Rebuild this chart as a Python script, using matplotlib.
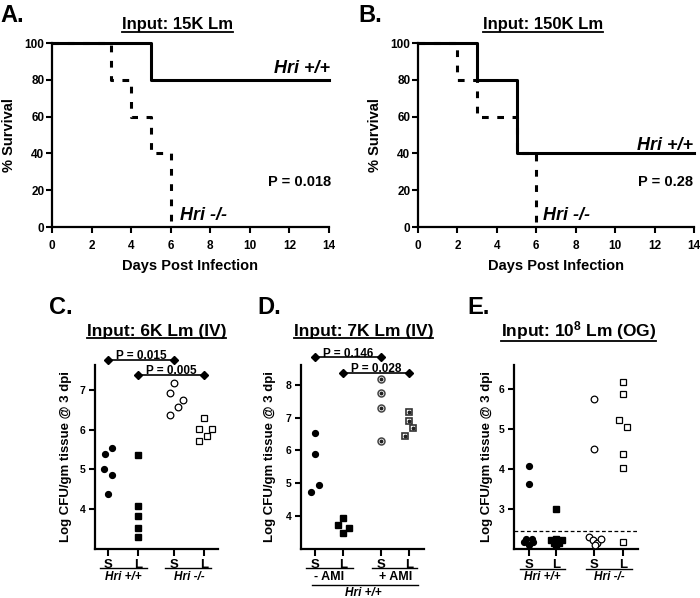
import matplotlib
matplotlib.use('Agg')
import matplotlib.pyplot as plt
from matplotlib.lines import Line2D

plt.rcParams['font.family'] = ['Liberation Sans', 'DejaVu Sans']
plt.rcParams['font.weight'] = 'bold'
plt.rcParams['axes.labelweight'] = 'bold'
plt.rcParams['mathtext.fontset'] = 'custom'
plt.rcParams['mathtext.rm'] = 'Liberation Sans:bold'
plt.rcParams['mathtext.bf'] = 'Liberation Sans:bold'
plt.rcParams['mathtext.it'] = 'Liberation Sans:bold:italic'
plt.rcParams['mathtext.default'] = 'bf'

# ---------------- data ----------------
day_ticks = [0, 2, 4, 6, 8, 10, 12, 14]
surv_ticks = [0, 20, 40, 60, 80, 100]

a_wt_days = [0, 5, 14]
a_wt_surv = [100, 80, 80]
a_ko_days = [0, 3, 4, 5, 6]
a_ko_surv = [100, 80, 60, 40, 0]
b_wt_days = [0, 3, 5, 14]
b_wt_surv = [100, 80, 40, 40]
b_ko_days = [0, 2, 3, 5, 6]
b_ko_surv = [100, 80, 60, 40, 0]
a_pvalue = 'P = 0.018'
b_pvalue = 'P = 0.28'

tick_names = ['S', 'L', 'S', 'L']

# Panel C (log CFU)
c_wt_spleen = [5.39, 5.53, 5.00, 4.87, 4.37]
c_wt_liver = [5.35, 4.07, 3.82, 3.53, 3.31]
c_ko_spleen = [7.17, 6.92, 6.75, 6.56, 6.36]
c_ko_liver = [6.29, 6.02, 6.02, 5.83, 5.71]
c_pvalues = ['P = 0.015', 'P = 0.005']

# Panel D
d_noami_spleen = [6.54, 5.88, 4.94, 4.74]
d_noami_liver = [3.93, 3.73, 3.63, 3.50]
d_ami_spleen = [8.18, 7.75, 7.30, 6.29]
d_ami_liver = [7.17, 6.89, 6.67, 6.45]
d_pvalues = ['P = 0.146', 'P = 0.028']

# Panel E
e_wt_spleen = [4.08, 3.63, 2.25, 2.25, 2.18, 2.18, 2.11]
e_wt_liver = [3.01, 2.23, 2.25, 2.23, 2.16, 2.16, 2.10]
e_ko_spleen = [5.75, 4.50, 2.30, 2.22, 2.15, 2.26, 2.09]
e_ko_liver = [6.17, 5.88, 5.22, 5.04, 4.38, 4.03, 2.18]
e_detection_limit = 2.44

# horizontal jitter (scatter spread) for each group
c_jitter = [[-0.11, 0.15, -0.13, 0.15, 0.01], [0, 0, 0, 0, 0],
            [0.0, -0.13, 0.29, 0.14, -0.13], [0.0, -0.16, 0.26, 0.11, -0.16]]
d_jitter = [[0, 0, 0.15, -0.14], [0, -0.18, 0.19, 0],
            [0, 0, 0, 0], [0, 0, 0.14, -0.15]]
e_jitter = [[0, 0, -0.11, 0.11, -0.17, 0.17, 0], [0, -0.2, 0, 0.2, -0.1, 0.1, 0],
            [0, 0, -0.18, -0.04, 0.12, 0.27, 0.03], [0, 0, -0.12, 0.15, 0, 0, 0]]

# ---------------- figure ----------------
W, H = 700, 598
fig = plt.figure(figsize=(7, 5.98), dpi=100)


def rect(l, t, r, b):
    return [l / W, 1 - b / H, (r - l) / W, (b - t) / H]


def style_axes(ax):
    for s in ['top', 'right']:
        ax.spines[s].set_visible(False)
    for s in ['left', 'bottom']:
        ax.spines[s].set_linewidth(1.6)


titles = []


def fig_text(xp, yp, s, **kw):
    return fig.text(xp / W, 1 - yp / H, s, **kw)


def survival_panel(box, wt_d, wt_s, ko_d, ko_s, pval, wt_pos, ko_pos, p_pos):
    ax = fig.add_axes(rect(*box))
    ax.step(ko_d, ko_s, where='post', color='black', lw=2.2,
            ls=(0, (2.2, 2.8)), clip_on=False, zorder=2)
    ax.step(wt_d, wt_s, where='post', color='black', lw=2.2,
            clip_on=False, zorder=3)
    ax.set_xlim(0, 14)
    ax.set_ylim(0, 100)
    ax.set_xticks(day_ticks)
    ax.set_yticks(surv_ticks)
    style_axes(ax)
    ax.tick_params(axis='both', direction='out', length=4, width=1.5, labelsize=8.5)
    ax.tick_params(axis='x', pad=5)
    ax.tick_params(axis='y', pad=1.5)
    ax.set_xlabel('Days Post Infection', fontsize=10.5, fontweight='bold', va='center')
    ax.xaxis.set_label_coords(0.5, -0.21)
    ax.set_ylabel('% Survival', fontsize=10.5, fontweight='bold', va='center')
    ax.yaxis.set_label_coords(-0.155, 0.5)
    ax.text(wt_pos[0], wt_pos[1], 'Hri +/+', style='italic', fontweight='bold',
            fontsize=13, ha='right', va='baseline')
    ax.text(ko_pos[0], ko_pos[1], 'Hri -/-', style='italic', fontweight='bold',
            fontsize=13, ha='left', va='baseline')
    ax.text(p_pos[0], p_pos[1], pval, fontweight='bold', fontsize=10.5,
            ha='right', va='baseline')
    return ax


survival_panel((52, 43, 329, 227), a_wt_days, a_wt_surv, a_ko_days, a_ko_surv,
               a_pvalue, (14.05, 83.5), (6.45, 3.8), (14.1, 22.3))
survival_panel((418, 43, 694, 227), b_wt_days, b_wt_surv, b_ko_days, b_ko_surv,
               b_pvalue, (13.95, 42.0), (6.35, 3.8), (13.95, 22.3))


def dot_panel(box, positions, xlim, ylim, yticks, groups, jitter, ylab_x):
    ax = fig.add_axes(rect(*box))
    style_axes(ax)
    ax.set_xlim(*xlim)
    ax.set_ylim(*ylim)
    ax.set_yticks(yticks)
    ax.set_xticks(positions)
    ax.set_xticklabels(tick_names)
    ax.tick_params(axis='y', direction='out', length=4, width=1.5, labelsize=7.5, pad=3)
    ax.tick_params(axis='x', direction='out', length=5, width=1.5, labelsize=9.5, pad=2)
    ax.set_ylabel('Log CFU/gm tissue @ 3 dpi', fontsize=9.5, fontweight='bold', va='center')
    ax.yaxis.set_label_coords(ylab_x, 0.5)
    for (vals, style), pos, jit in zip(groups, positions, jitter):
        xs = [pos + j for j in jit]
        ax.plot(xs, vals, linestyle='none', clip_on=False, zorder=3, **style)
    return ax


def bracket(ax, x0, x1, y, label):
    ax.plot([x0, x1], [y, y], color='black', lw=1.2, marker='D', ms=4,
            clip_on=False, zorder=4)
    ax.text((x0 + x1) / 2, y + 0.002 * (ax.get_ylim()[1] - ax.get_ylim()[0]), label,
            fontsize=8.5, fontweight='bold', ha='center', va='baseline')


def group_line(ax, x0, x1, yfrac, lw=1.0):
    ax.plot([x0, x1], [yfrac, yfrac], transform=ax.get_xaxis_transform(),
            color='black', lw=lw, clip_on=False)


def group_label(ax, x, yfrac, s, italic=False, size=8.5):
    ax.text(x, yfrac, s, transform=ax.get_xaxis_transform(), ha='center',
            va='center', fontsize=size, fontweight='bold',
            style='italic' if italic else 'normal')


filled_circle = dict(marker='o', ms=4.2, mfc='black', mec='black')
filled_square = dict(marker='s', ms=4.0, mfc='black', mec='black')
open_circle = dict(marker='o', ms=4.8, mfc='white', mec='black', mew=0.9)
open_square = dict(marker='s', ms=4.8, mfc='white', mec='black', mew=0.9)
dot_circle = dict(marker='o', ms=5.0, mfc='white', mec='#444444', mew=1.1)
dot_square = dict(marker='s', ms=5.0, mfc='white', mec='#333333', mew=1.2)

# ---- Panel C ----
c_pos = [1, 2, 3.2, 4.2]
axC = dot_panel((95, 365, 218, 549), c_pos, (0.57, 4.67), (3.0, 7.62), [4, 5, 6, 7],
                [(c_wt_spleen, filled_circle), (c_wt_liver, filled_square),
                 (c_ko_spleen, open_circle), (c_ko_liver, open_square)],
                c_jitter, -0.235)
bracket(axC, c_pos[0], c_pos[2], 7.75, c_pvalues[0])
bracket(axC, c_pos[1], c_pos[3], 7.375, c_pvalues[1])
group_line(axC, 0.73, 2.3, -0.103)
group_line(axC, 2.9, 4.43, -0.103)
group_label(axC, 1.5, -0.152, 'Hri +/+', italic=True)
group_label(axC, 3.7, -0.152, 'Hri -/-', italic=True)

# ---- Panel D ----
d_pos = [1, 2, 3.33, 4.33]
axD = dot_panel((301, 365, 424, 549), d_pos, (0.505, 4.85), (3.0, 8.6), [4, 5, 6, 7, 8],
                [(d_noami_spleen, filled_circle), (d_noami_liver, filled_square),
                 (d_ami_spleen, dot_circle), (d_ami_liver, dot_square)],
                d_jitter, -0.25)
for vals, pos, jit in [(d_ami_spleen, d_pos[2], d_jitter[2]), (d_ami_liver, d_pos[3], d_jitter[3])]:
    axD.plot([pos + j for j in jit], vals, linestyle='none', marker='o', ms=1.8,
             mfc='#222222', mec='#222222', zorder=4)
bracket(axD, d_pos[0], d_pos[2], 8.83, d_pvalues[0])
bracket(axD, d_pos[1], d_pos[3], 8.37, d_pvalues[1])
group_line(axD, 0.68, 2.33, -0.103)
group_line(axD, 3.0, 4.61, -0.103)
group_label(axD, 1.5, -0.152, '- AMI', size=9)
group_label(axD, 3.83, -0.152, '+ AMI', size=9)
group_line(axD, 0.88, 4.65, -0.196)
group_label(axD, 2.72, -0.24, 'Hri +/+', italic=True)

# ---- Panel E ----
e_pos = [1, 2, 3.35, 4.4]
axE = dot_panel((514, 365, 638, 549), e_pos, (0.47, 4.95), (2.0, 6.6), [3, 4, 5, 6],
                [(e_wt_spleen, filled_circle), (e_wt_liver, filled_square),
                 (e_ko_spleen, open_circle), (e_ko_liver, open_square)],
                e_jitter, -0.22)
axE.axhline(e_detection_limit, color='black', lw=0.9, ls=(0, (3, 2)), zorder=1)
group_line(axE, 0.67, 2.31, -0.108)
group_line(axE, 3.07, 4.73, -0.108)
group_label(axE, 1.5, -0.152, 'Hri +/+', italic=True)
group_label(axE, 3.9, -0.152, 'Hri -/-', italic=True)

# ---- titles & panel letters ----
titles.append(fig_text(177.5, 29.3, 'Input: 15K Lm', fontsize=12, fontweight='bold', ha='center', va='baseline'))
titles.append(fig_text(543.3, 29.3, 'Input: 150K Lm', fontsize=12, fontweight='bold', ha='center', va='baseline'))
titles.append(fig_text(156.7, 336, 'Input: 6K Lm (IV)', fontsize=12.5, fontweight='bold', ha='center', va='baseline'))
titles.append(fig_text(363.3, 336, 'Input: 7K Lm (IV)', fontsize=12.5, fontweight='bold', ha='center', va='baseline'))
titles.append(fig_text(578.3, 336, r'Input: 10$^{8}$ Lm (OG)', fontsize=12.5, fontweight='bold', ha='center', va='baseline'))

fig_text(0, 21.7, 'A.', fontsize=17, fontweight='bold', ha='left', va='baseline')
fig_text(358, 21.7, 'B.', fontsize=17, fontweight='bold', ha='left', va='baseline')
fig_text(49, 314, 'C.', fontsize=17, fontweight='bold', ha='left', va='baseline')
fig_text(257, 314, 'D.', fontsize=17, fontweight='bold', ha='left', va='baseline')
fig_text(467, 314, 'E.', fontsize=17, fontweight='bold', ha='left', va='baseline')

# underline titles
fig.canvas.draw()
renderer = fig.canvas.get_renderer()
fw, fh = fig.bbox.width, fig.bbox.height
for t in titles:
    bb = t.get_window_extent(renderer)
    y = (bb.y0 + 0.8) / fh
    fig.add_artist(Line2D([bb.x0 / fw, bb.x1 / fw], [y, y], transform=fig.transFigure,
                          color='black', lw=1.3))

fig.savefig('out.png', dpi=100)
